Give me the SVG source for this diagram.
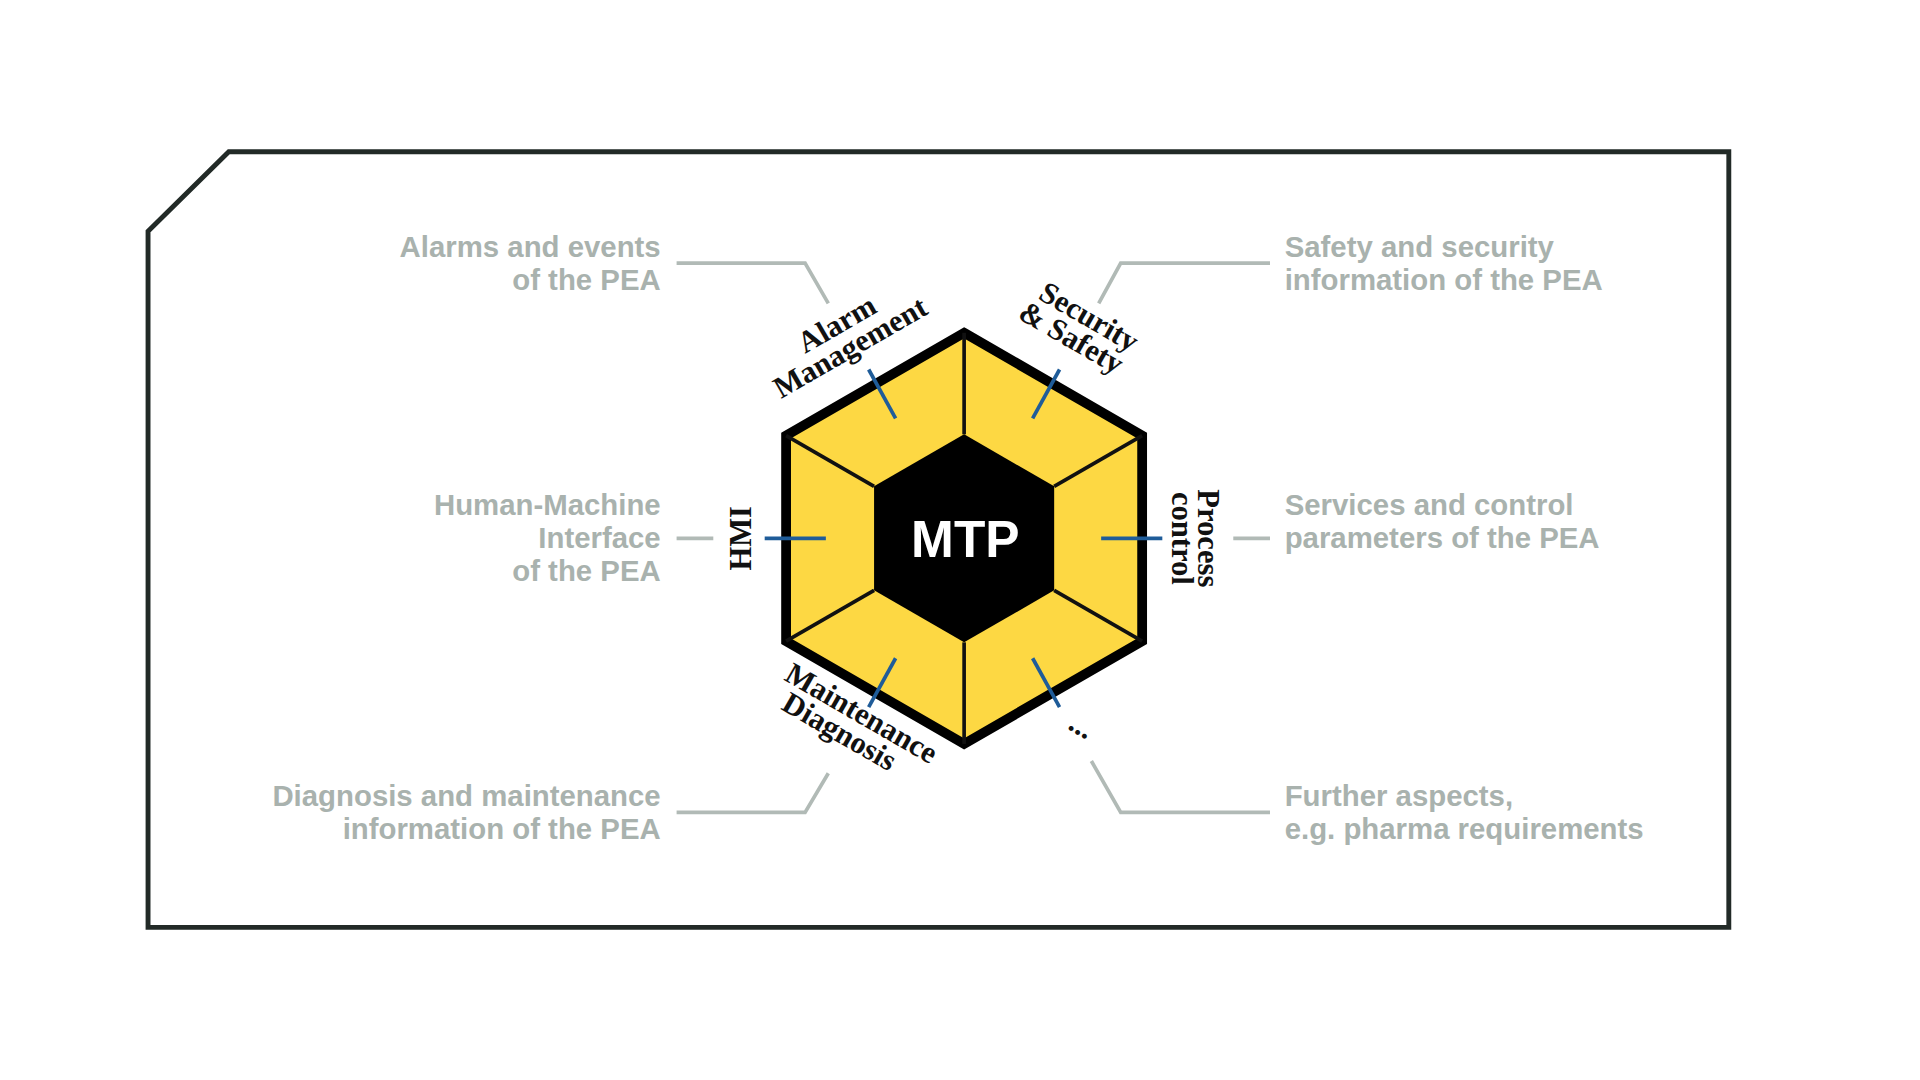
<svg xmlns="http://www.w3.org/2000/svg" width="1920" height="1080" viewBox="0 0 1920 1080">
<style>
.g{font-family:"Liberation Sans",Arial,sans-serif;font-weight:bold;font-size:24px;fill:#a9b2ae}
.r{text-anchor:end}
.s{font-family:"Liberation Serif","DejaVu Serif",serif;font-weight:bold;font-size:25px;fill:#111;text-anchor:middle}
.gl{fill:none;stroke:#b1bab6;stroke-width:3}
.bl{stroke:#1f5c99;stroke-width:3}
.dv{stroke:#111;stroke-width:3}
</style>
<rect width="1920" height="1080" fill="#fff"/>
<g transform="scale(1.2235)">
<path id="frame" d="M187,124 L1413,124 L1413,758 L121,758 L121,189 Z" fill="none" stroke="#222a27" stroke-width="4"/>
<g id="hexagon">
<polygon points="788,272 933.5,356 933.5,524 788,608 642.5,524 642.5,356" fill="#fdd843" stroke="#000" stroke-width="8"/>
<line class="dv" x1="788" y1="355" x2="788" y2="272"/>
<line class="dv" x1="861.6" y1="397.5" x2="933.5" y2="356"/>
<line class="dv" x1="861.6" y1="482.5" x2="933.5" y2="524"/>
<line class="dv" x1="788" y1="525" x2="788" y2="608"/>
<line class="dv" x1="714.4" y1="482.5" x2="642.5" y2="524"/>
<line class="dv" x1="714.4" y1="397.5" x2="642.5" y2="356"/>
<polygon points="788,355 861.6,397.5 861.6,482.5 788,525 714.4,482.5 714.4,397.5" fill="#000"/>
<text x="789" y="455" font-family="Liberation Sans,Arial,sans-serif" font-weight="bold" font-size="42" fill="#fff" text-anchor="middle">MTP</text>
</g>
<g id="connectors">
<line class="bl" x1="710" y1="302" x2="732" y2="342"/>
<line class="bl" x1="866" y1="302" x2="844" y2="342"/>
<line class="bl" x1="625" y1="440" x2="675" y2="440"/>
<line class="bl" x1="900" y1="440" x2="950" y2="440"/>
<line class="bl" x1="732" y1="538" x2="710" y2="578"/>
<line class="bl" x1="844" y1="538" x2="866" y2="578"/>
<polyline class="gl" points="553,215 658,215 677,248"/>
<polyline class="gl" points="1038,215 916,215 898,248"/>
<polyline class="gl" points="553,440 583,440"/>
<polyline class="gl" points="1008,440 1038,440"/>
<polyline class="gl" points="553,664 658,664 677,632"/>
<polyline class="gl" points="1038,664 916,664 892,622"/>
</g>
<g id="alarm">
<text class="s" transform="translate(688,272) rotate(-30)"><tspan x="0" y="0">Alarm</tspan><tspan x="0" y="22">Management</tspan></text>
<text class="g r" x="540" y="210">Alarms and events</text>
<text class="g r" x="540" y="237">of the PEA</text>
</g>
<g id="security">
<text class="s" transform="translate(886,266) rotate(30)"><tspan x="0" y="0">Security</tspan><tspan x="-4" y="22">&amp; Safety</tspan></text>
<text class="g" x="1050" y="210">Safety and security</text>
<text class="g" x="1050" y="237">information of the PEA</text>
</g>
<g id="hmi">
<text class="s" transform="translate(614,440) rotate(-90)" x="0" y="0">HMI</text>
<text class="g r" x="540" y="421">Human-Machine</text>
<text class="g r" x="540" y="448">Interface</text>
<text class="g r" x="540" y="475">of the PEA</text>
</g>
<g id="process">
<text class="s" transform="translate(979,440) rotate(90)"><tspan x="0" y="0">Process</tspan><tspan x="0" y="21">control</tspan></text>
<text class="g" x="1050" y="421">Services and control</text>
<text class="g" x="1050" y="448">parameters of the PEA</text>
</g>
<g id="maintenance">
<text class="s" transform="translate(700,590) rotate(30)"><tspan x="0" y="0">Maintenance</tspan><tspan x="-8" y="22">Diagnosis</tspan></text>
<text class="g r" x="540" y="659">Diagnosis and maintenance</text>
<text class="g r" x="540" y="686">information of the PEA</text>
</g>
<g id="further">
<text class="s" transform="translate(880,600) rotate(30)">...</text>
<text class="g" x="1050" y="659">Further aspects,</text>
<text class="g" x="1050" y="686">e.g. pharma requirements</text>
</g>
</g>
</svg>
